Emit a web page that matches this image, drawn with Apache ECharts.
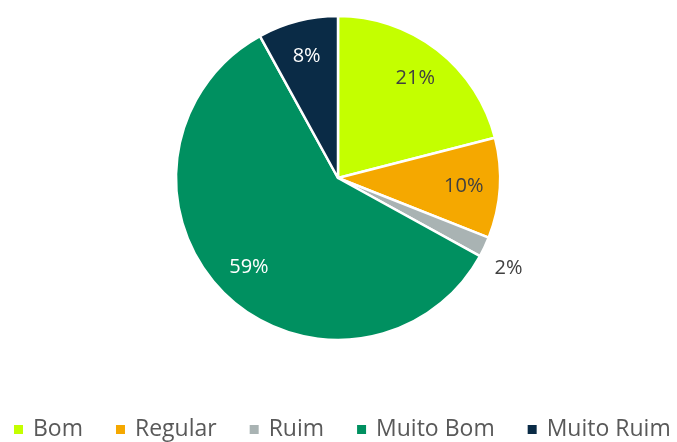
<!DOCTYPE html>
<html>
<head>
<meta charset="utf-8">
<script src="https://cdn.jsdelivr.net/npm/echarts@6/dist/echarts.min.js"></script>
<style>
  html, body { margin: 0; padding: 0; background: #fff; }
  #chart { width: 677px; height: 442px; }
</style>
</head>
<body>
<div id="chart"></div>
<script>
  // dados do gráfico
  var categorias = ['Bom', 'Regular', 'Ruim', 'Muito Bom', 'Muito Ruim'];
  var valores = [21, 10, 2, 59, 8];
  var cores = ['#c4ff00', '#f5a800', '#a9b3b3', '#009060', '#0a2b46'];
  var corTexto = ['#404040', '#404040', '#404040', '#ffffff', '#ffffff'];

  var myChart = echarts.init(document.getElementById('chart'));

  var dados = [];
  var dadosRotulo = [];
  for (var i = 0; i < categorias.length; i++) {
    var dentro = valores[i] >= 5;
    dados.push({
      name: categorias[i],
      value: valores[i],
      itemStyle: { color: cores[i] },
      label: dentro ? { show: false } : {
        show: true, position: 'outside', color: '#404040', offset: [-6, 16]
      },
      labelLine: { show: false, length: 12, length2: 0 }
    });
    dadosRotulo.push({
      name: categorias[i],
      value: valores[i],
      label: { show: dentro, color: corTexto[i] }
    });
  }

  var fonte = '"Open Sans", "Noto Sans", sans-serif';

  var option = {
    animation: false,
    color: cores,
    legend: {
      data: categorias,
      top: 413,
      left: 7,
      icon: 'rect',
      itemWidth: 11,
      itemHeight: 11,
      itemGap: 31,
      textStyle: { fontSize: 23, color: '#595959', fontFamily: fonte, padding: [0, 0, 0, 4] }
    },
    series: [{
      type: 'pie',
      center: [338, 178],
      radius: 162,
      startAngle: 90,
      clockwise: true,
      itemStyle: { borderColor: '#fff', borderWidth: 2.5 },
      label: {
        fontSize: 20,
        fontFamily: fonte,
        formatter: '{d}%'
      },
      emphasis: { disabled: true },
      data: dados
    }, {
      // anel transparente só para posicionar os rótulos internos
      type: 'pie',
      center: [338, 178],
      radius: [84, 162],
      startAngle: 90,
      clockwise: true,
      silent: true,
      itemStyle: { color: 'rgba(0,0,0,0)', borderWidth: 0 },
      label: {
        position: 'inside',
        fontSize: 20,
        fontFamily: fonte,
        formatter: '{d}%'
      },
      labelLine: { show: false },
      emphasis: { disabled: true },
      data: dadosRotulo
    }]
  };

  myChart.setOption(option);
</script>
</body>
</html>
